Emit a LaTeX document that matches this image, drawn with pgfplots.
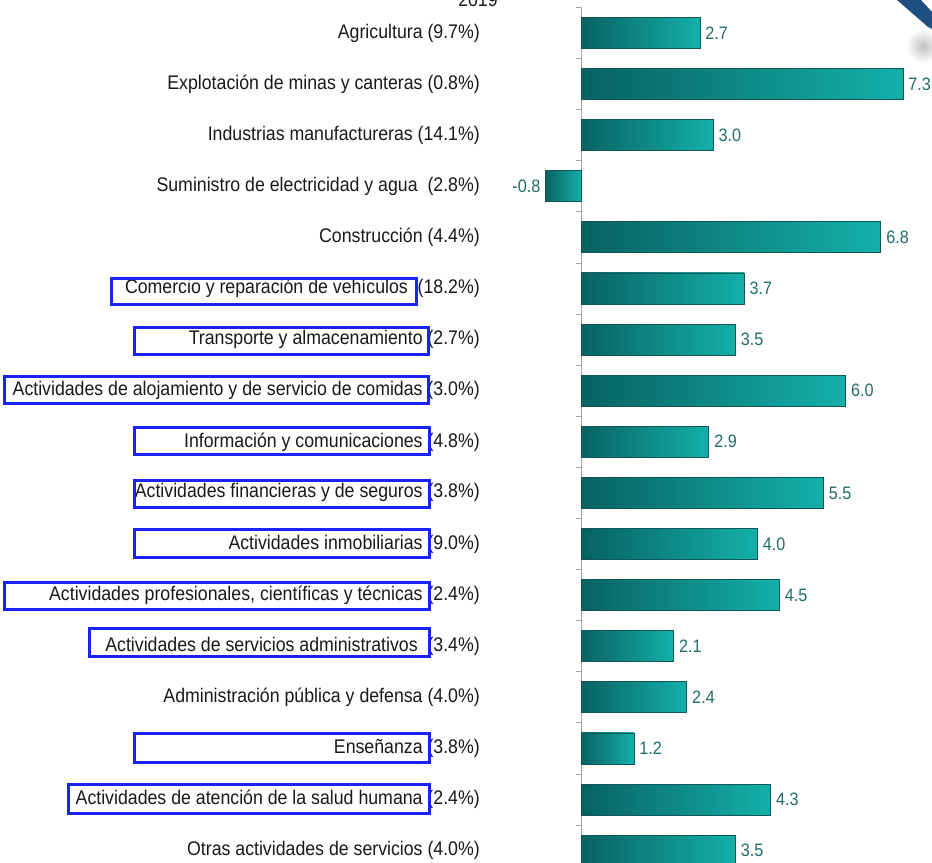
\documentclass[border=0pt]{standalone}
\usepackage{pgfplots}
\pgfplotsset{compat=1.18}
\usepackage{fontspec}
\setmainfont[FakeStretch=0.9]{Liberation Sans}
\definecolor{barL}{RGB}{8,98,98}
\definecolor{barR}{RGB}{20,176,170}
\definecolor{barE}{RGB}{18,88,88}
\definecolor{valc}{RGB}{30,108,108}
\definecolor{labc}{RGB}{25,25,25}
\definecolor{boxc}{RGB}{25,35,245}
\definecolor{logob}{RGB}{30,78,130}
\begin{document}
\begin{tikzpicture}[x=1bp,y=1bp]
\useasboundingbox (0,0) rectangle (932,863);
% logo fragment top right
\shade[inner color=gray!50, outer color=white] (923,817) circle (17);
\fill[logob] (897,863) -- (921,863) -- (932,851) -- (932,834) -- (928,836) -- cycle;
\node[anchor=base, text=labc, font=\fontsize{19.7bp}{22bp}\selectfont] at (478,856) {2019};
\begin{axis}[
  at={(581bp,-13.15bp)}, anchor=south west,
  scale only axis, width=352.8bp, height=868.7bp,
  xmin=0, xmax=8, ymin=-0.5, ymax=16.5,
  y dir=reverse, clip=false,
  axis x line=none, axis y line*=left,
  axis line style={draw=gray!70, line width=0.8pt},
  xtick=\empty,
  ytick={0,...,16},
  minor ytick={-0.5,0.5,...,16.5},
  major tick length=0pt, minor tick length=5bp,
  tick align=outside,
  minor tick style={draw=gray!70, line width=0.8pt},
  yticklabel style={anchor=east, inner sep=0pt, xshift=-101bp, text=labc,
    font=\fontsize{19.7bp}{22bp}\selectfont},
  yticklabels={
    Agricultura (9.7\%),
    Explotación de minas y canteras (0.8\%),
    Industrias manufactureras (14.1\%),
    Suministro de electricidad y agua\ \ (2.8\%),
    Construcción (4.4\%),
    Comercio y reparación de vehículos\ \ (18.2\%),
    Transporte y almacenamiento (2.7\%),
    Actividades de alojamiento y de servicio de comidas (3.0\%),
    Información y comunicaciones (4.8\%),
    Actividades financieras y de seguros (3.8\%),
    Actividades inmobiliarias (9.0\%),
    {Actividades profesionales, científicas y técnicas (2.4\%)},
    Actividades de servicios administrativos\ \ (3.4\%),
    Administración pública y defensa (4.0\%),
    Enseñanza (3.8\%),
    Actividades de atención de la salud humana (2.4\%),
    Otras actividades de servicios (4.0\%)
  },
  xbar, bar width=31bp, bar shift=0pt,
  nodes near coords,
  nodes near coords align=horizontal,
  nodes near coords style={text=valc, inner xsep=5bp, inner ysep=0pt,
    font=\fontsize{18bp}{20bp}\selectfont,
    /pgf/number format/fixed, /pgf/number format/fixed zerofill,
    /pgf/number format/precision=1,
    /pgf/number format/assume math mode=true},
  bstyle/.style={draw=barE, line width=0.8pt, left color=barL, right color=barR},
]
\addplot[bstyle] coordinates {(2.7,0)};
\addplot[bstyle] coordinates {(7.3,1)};
\addplot[bstyle] coordinates {(3.0,2)};
\addplot[bstyle] coordinates {(-0.8,3)};
\addplot[bstyle] coordinates {(6.8,4)};
\addplot[bstyle] coordinates {(3.7,5)};
\addplot[bstyle] coordinates {(3.5,6)};
\addplot[bstyle] coordinates {(6.0,7)};
\addplot[bstyle] coordinates {(2.9,8)};
\addplot[bstyle] coordinates {(5.5,9)};
\addplot[bstyle] coordinates {(4.0,10)};
\addplot[bstyle] coordinates {(4.5,11)};
\addplot[bstyle] coordinates {(2.1,12)};
\addplot[bstyle] coordinates {(2.4,13)};
\addplot[bstyle] coordinates {(1.2,14)};
\addplot[bstyle] coordinates {(4.3,15)};
\addplot[bstyle] coordinates {(3.5,16)};
\end{axis}
\begin{scope}[draw=boxc, line width=3bp]
\draw (111.5,558.5) rectangle (416.5,584.5);
\draw (134.5,508) rectangle (428.5,535.5);
\draw (4.5,459) rectangle (428.5,486.5);
\draw (134.5,408) rectangle (429,435.5);
\draw (134.5,355) rectangle (429,382.5);
\draw (134.5,305.5) rectangle (429,333);
\draw (4.5,253.5) rectangle (429,280);
\draw (89.5,206.5) rectangle (429,234.5);
\draw (134,100.5) rectangle (429,129);
\draw (68.5,49.5) rectangle (429,78.5);
\end{scope}
\end{tikzpicture}
\end{document}
